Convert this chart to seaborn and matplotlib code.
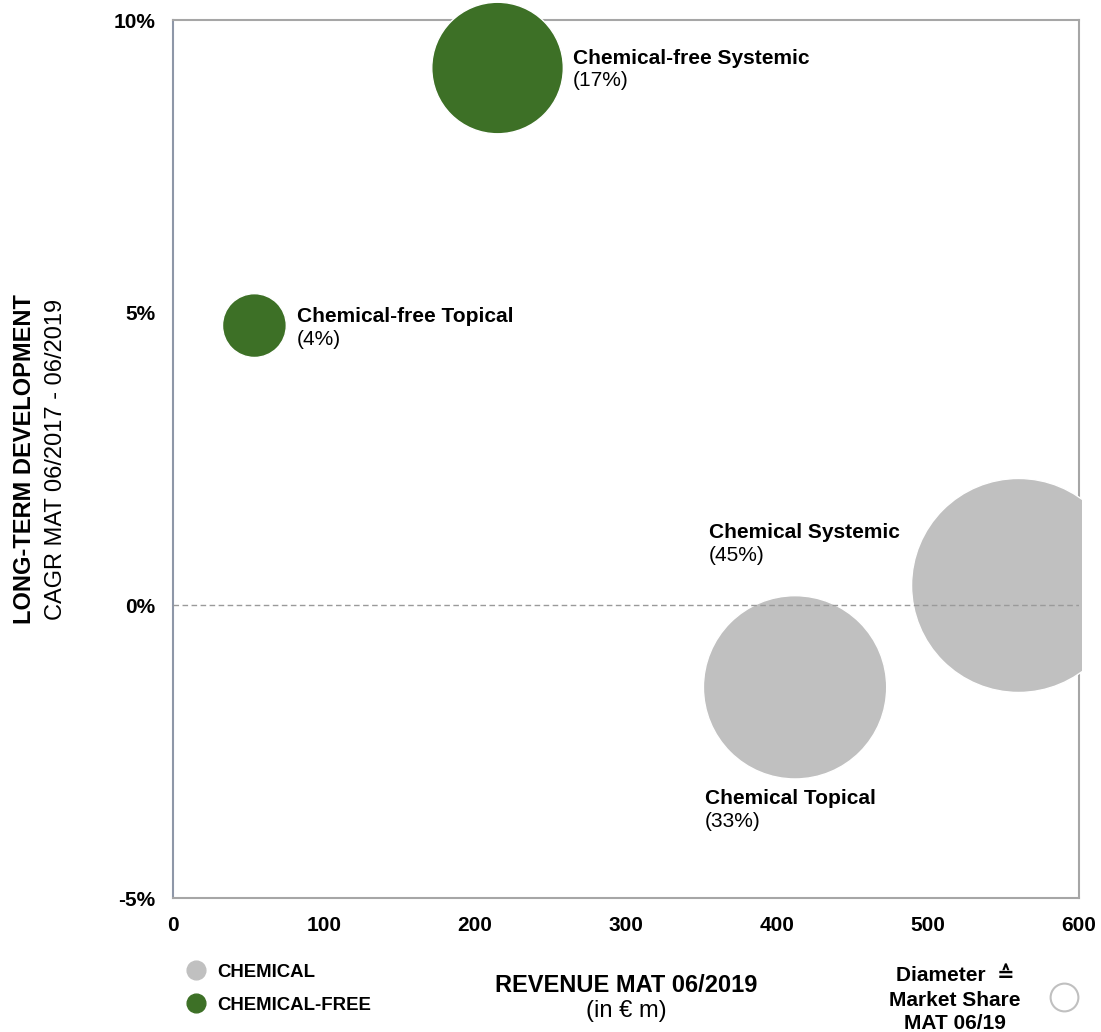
import matplotlib
matplotlib.use("Agg")
import matplotlib.pyplot as plt
from matplotlib.lines import Line2D
from matplotlib.patches import Rectangle
import seaborn as sns
import pandas as pd

# --- data -------------------------------------------------------------
segments = ["Chemical-free Systemic", "Chemical-free Topical",
            "Chemical Systemic", "Chemical Topical"]
groups = ["CHEMICAL-FREE", "CHEMICAL-FREE", "CHEMICAL", "CHEMICAL"]
revenue = [215, 54, 560, 412]            # revenue MAT 06/2019, in EUR m
cagr = [9.18, 4.78, 0.34, -1.40]         # CAGR 06/2017 - 06/2019, in %
share = [17, 4, 45, 33]                  # market share MAT 06/19, in %

x_ticks = [0, 100, 200, 300, 400, 500, 600]
y_ticks = [-5, 0, 5, 10]

# label anchors (data units) for each bubble's caption
label_x = [264.9, 82.1, 355.0, 352.3]
label_y = [9.35, 4.94, 1.24, -3.30]

df = pd.DataFrame({"segment": segments, "group": groups,
                   "revenue": revenue, "cagr": cagr, "share": share})

colors = {"CHEMICAL": "#c0c0c0", "CHEMICAL-FREE": "#3d7026"}

sns.set_theme(style="white")
plt.rcParams["font.family"] = ["Liberation Sans", "DejaVu Sans"]
plt.rcParams["text.color"] = "black"
plt.rcParams["axes.labelcolor"] = "black"

fig = plt.figure(figsize=(11.01, 10.32), dpi=100)
ax = fig.add_axes([0.157, 0.1298, 0.823, 0.8508])

# bubble area proportional to market share
k = 527.6
sns.scatterplot(data=df, x="revenue", y="cagr", hue="group", size="share",
                sizes=(min(share) * k, max(share) * k), palette=colors,
                edgecolor="white", linewidth=1, alpha=1, legend=False,
                ax=ax, zorder=3)
clip = Rectangle((-0.1, -0.1), 1.003 + 0.1, 1.3, transform=ax.transAxes)
for coll in ax.collections:
    coll.set_clip_path(clip)

ax.axhline(0, color="#9a9a9a", lw=1, ls=(0, (4, 2.5)), zorder=4)

ax.set_xlim(0, 600)
ax.set_ylim(-5, 10)
ax.set_xticks(x_ticks)
ax.set_xticklabels([str(t) for t in x_ticks], fontsize=15, fontweight="bold")
ax.set_yticks(y_ticks)
ax.set_yticklabels([f"{t}%" for t in y_ticks], fontsize=15, fontweight="bold")
ax.tick_params(axis="both", direction="out", length=5, width=1.5,
               color="#a6a6a6", labelcolor="black")
ax.tick_params(axis="y", pad=7.5, colors="#8e97a8", labelcolor="black")
ax.tick_params(axis="x", pad=8)
ax.set_xlabel("")
ax.set_ylabel("")
for name, sp in ax.spines.items():
    sp.set_visible(True)
    sp.set_linewidth(1.5)
    sp.set_color("#a6a6a6")
ax.spines["left"].set_color("#8e97a8")

for seg, s, lx, ly in zip(segments, share, label_x, label_y):
    ax.annotate(seg, (lx, ly), fontsize=15, fontweight="bold",
                ha="left", va="center", zorder=5, color="black")
    ax.annotate(f"({s}%)", (lx, ly), xytext=(0, -16.5),
                textcoords="offset points", fontsize=15,
                ha="left", va="center", zorder=5, color="black")

# axis titles
fig.text(0.5686, 0.0450, "REVENUE MAT 06/2019", ha="center", va="center",
         fontsize=17, fontweight="bold")
fig.text(0.5686, 0.0208, "(in € m)", ha="center", va="center", fontsize=17)
fig.text(0.0227, 0.555, "LONG-TERM DEVELOPMENT", rotation=90, ha="center",
         va="center", fontsize=17, fontweight="bold")
fig.text(0.0509, 0.555, "CAGR MAT 06/2017 - 06/2019", rotation=90,
         ha="center", va="center", fontsize=17)

# colour legend
handles = [Line2D([], [], marker="o", ls="", markersize=13.5,
                  markerfacecolor=colors[g], markeredgecolor=colors[g],
                  label=g) for g in ["CHEMICAL", "CHEMICAL-FREE"]]
fig.legend(handles=handles, loc="center left",
           bbox_to_anchor=(0.161, 0.0418), frameon=False,
           prop={"weight": "bold", "size": 13.4}, handletextpad=0.55,
           labelspacing=0.85, borderaxespad=0, handlelength=1.2)

# size key
fig.text(0.8674, 0.0550, "Diameter  ≙", ha="center", va="center",
         fontsize=15, fontweight="bold")
fig.text(0.8674, 0.0310, "Market Share", ha="center", va="center",
         fontsize=15, fontweight="bold")
fig.text(0.8674, 0.0078, "MAT 06/19", ha="center", va="center",
         fontsize=15, fontweight="bold")
fig.add_artist(Line2D([0.9664], [1 - 997 / 1032], marker="o", ls="",
                      markersize=20, markerfacecolor="white",
                      markeredgecolor="#c0c0c0", markeredgewidth=1.5,
                      transform=fig.transFigure))

fig.savefig("out.png", dpi=100)
